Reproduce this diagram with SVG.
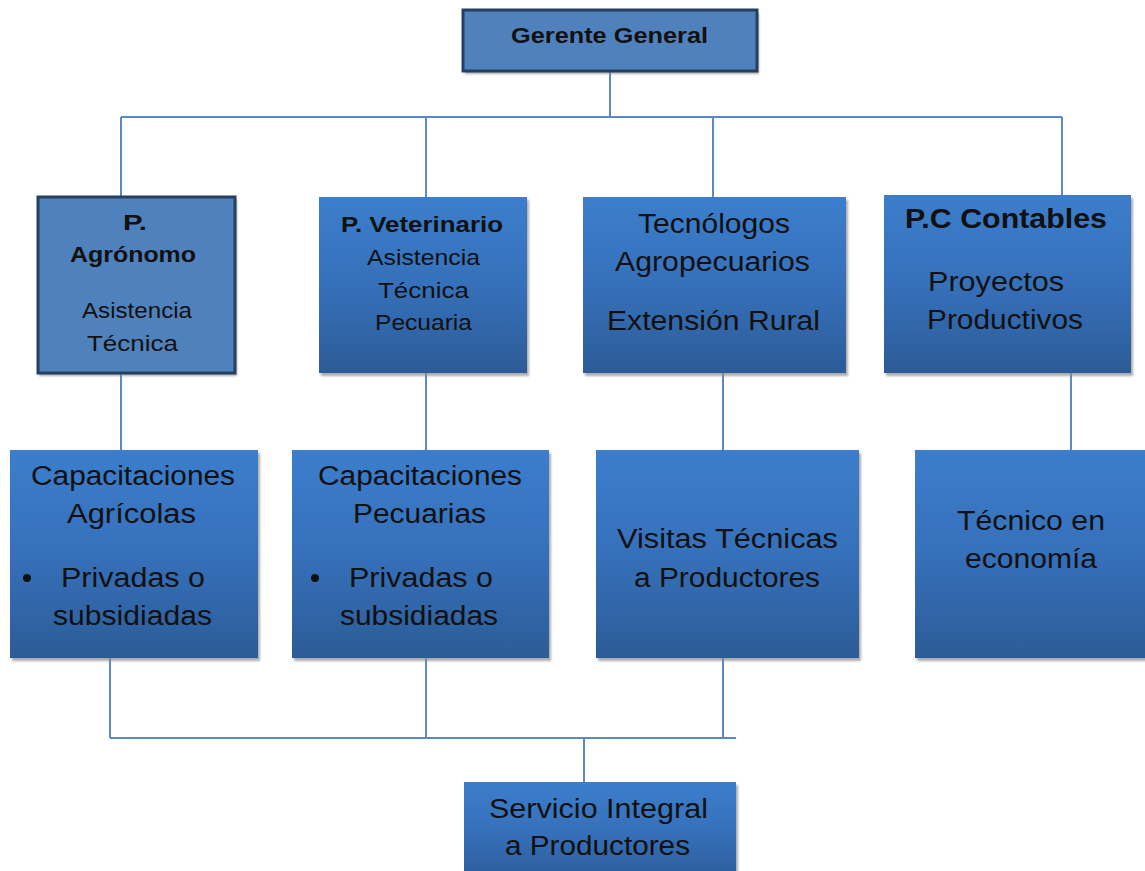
<svg xmlns="http://www.w3.org/2000/svg" width="1145" height="871" viewBox="0 0 1145 871">
<defs>
<linearGradient id="g" x1="0" y1="0" x2="0" y2="1">
<stop offset="0" stop-color="#3C7ECC"/>
<stop offset="0.5" stop-color="#3670BA"/>
<stop offset="1" stop-color="#2C5C97"/>
</linearGradient>
<filter id="sh" x="-5%" y="-5%" width="115%" height="115%">
<feGaussianBlur stdDeviation="1.2"/>
</filter>
</defs>
<style>
.box{fill:url(#g)}
.flat{fill:#4F81BD;stroke:#243F60;stroke-width:3}
.shadow{fill:#8a8a8a;opacity:0.7;filter:url(#sh)}
.conn{fill:none;stroke:#5B89C6;stroke-width:2}
text{font-family:"Liberation Sans",Arial,sans-serif;fill:#111;}
.b{font-weight:bold}
.r27{font-size:27px}
.r22{font-size:22px}
.b22{font-size:22px;font-weight:bold}
.b27{font-size:27px;font-weight:bold}
</style>
<rect width="1145" height="871" fill="#fff"/>
<g id="connectors">
<path class="conn" d="M610 71V117M121 117H1062M121 117V197M426 117V197M713 117V197M1062 117V195"/>
<path class="conn" d="M121 373V450M426 373V450M723 373V450M1071 373V450"/>
<path class="conn" d="M110 658V738M426 658V738M723 658V738M110 738H736M584 738V782"/>
</g>
<g id="gerente">
<rect class="shadow" x="465" y="13" width="294" height="61"/>
<rect class="flat" x="463" y="10" width="294" height="61"/>
<text class="b22" x="511" y="43" textLength="197" lengthAdjust="spacingAndGlyphs">Gerente General</text>
</g>
<g id="agronomo">
<rect class="shadow" x="39" y="199" width="198" height="177"/>
<rect class="flat" x="38" y="197" width="197" height="176"/>
<text class="b22" x="123" y="230" textLength="24" lengthAdjust="spacingAndGlyphs">P.</text>
<text class="b22" x="70" y="262" textLength="126" lengthAdjust="spacingAndGlyphs">Agrónomo</text>
<text class="r22" x="82" y="318" textLength="110" lengthAdjust="spacingAndGlyphs">Asistencia</text>
<text class="r22" x="87" y="351" textLength="91" lengthAdjust="spacingAndGlyphs">Técnica</text>
</g>
<g id="veterinario">
<rect class="shadow" x="321" y="200" width="208" height="176"/>
<rect class="box" x="319" y="197" width="208" height="176"/>
<text class="b22" x="341" y="232" textLength="162" lengthAdjust="spacingAndGlyphs">P. Veterinario</text>
<text class="r22" x="367" y="265" textLength="113" lengthAdjust="spacingAndGlyphs">Asistencia</text>
<text class="r22" x="378" y="298" textLength="91" lengthAdjust="spacingAndGlyphs">Técnica</text>
<text class="r22" x="375" y="330" textLength="97" lengthAdjust="spacingAndGlyphs">Pecuaria</text>
</g>
<g id="tecnologos">
<rect class="shadow" x="585" y="200" width="263" height="176"/>
<rect class="box" x="583" y="197" width="263" height="176"/>
<text class="r27" x="638" y="233" textLength="152" lengthAdjust="spacingAndGlyphs">Tecnólogos</text>
<text class="r27" x="615" y="271" textLength="195" lengthAdjust="spacingAndGlyphs">Agropecuarios</text>
<text class="r27" x="607" y="330" textLength="213" lengthAdjust="spacingAndGlyphs">Extensión Rural</text>
</g>
<g id="contables">
<rect class="shadow" x="886" y="198" width="247" height="178"/>
<rect class="box" x="884" y="195" width="247" height="178"/>
<text class="b27" x="905" y="228" textLength="202" lengthAdjust="spacingAndGlyphs">P.C Contables</text>
<text class="r27" x="928" y="291" textLength="136" lengthAdjust="spacingAndGlyphs">Proyectos</text>
<text class="r27" x="927" y="329" textLength="156" lengthAdjust="spacingAndGlyphs">Productivos</text>
</g>
<g id="cap-agricolas">
<rect class="shadow" x="12" y="453" width="248" height="208"/>
<rect class="box" x="10" y="450" width="248" height="208"/>
<text class="r27" x="31" y="485" textLength="204" lengthAdjust="spacingAndGlyphs">Capacitaciones</text>
<text class="r27" x="67" y="523" textLength="129" lengthAdjust="spacingAndGlyphs">Agrícolas</text>
<circle cx="27" cy="578" r="4" fill="#111"/>
<text class="r27" x="61" y="587" textLength="144" lengthAdjust="spacingAndGlyphs">Privadas o</text>
<text class="r27" x="53" y="625" textLength="159" lengthAdjust="spacingAndGlyphs">subsidiadas</text>
</g>
<g id="cap-pecuarias">
<rect class="shadow" x="294" y="453" width="257" height="208"/>
<rect class="box" x="292" y="450" width="257" height="208"/>
<text class="r27" x="318" y="485" textLength="204" lengthAdjust="spacingAndGlyphs">Capacitaciones</text>
<text class="r27" x="353" y="523" textLength="133" lengthAdjust="spacingAndGlyphs">Pecuarias</text>
<circle cx="315" cy="578" r="4" fill="#111"/>
<text class="r27" x="349" y="587" textLength="144" lengthAdjust="spacingAndGlyphs">Privadas o</text>
<text class="r27" x="340" y="625" textLength="158" lengthAdjust="spacingAndGlyphs">subsidiadas</text>
</g>
<g id="visitas">
<rect class="shadow" x="598" y="453" width="263" height="208"/>
<rect class="box" x="596" y="450" width="263" height="208"/>
<text class="r27" x="617" y="548" textLength="221" lengthAdjust="spacingAndGlyphs">Visitas Técnicas</text>
<text class="r27" x="634" y="587" textLength="186" lengthAdjust="spacingAndGlyphs">a Productores</text>
</g>
<g id="economia">
<rect class="shadow" x="917" y="453" width="230" height="208"/>
<rect class="box" x="915" y="450" width="230" height="208"/>
<text class="r27" x="957" y="530" textLength="148" lengthAdjust="spacingAndGlyphs">Técnico en</text>
<text class="r27" x="965" y="568" textLength="132" lengthAdjust="spacingAndGlyphs">economía</text>
</g>
<g id="servicio">
<rect class="shadow" x="466" y="785" width="272" height="100"/>
<rect class="box" x="464" y="782" width="272" height="100"/>
<text class="r27" x="489" y="818" textLength="219" lengthAdjust="spacingAndGlyphs">Servicio Integral</text>
<text class="r27" x="505" y="855" textLength="185" lengthAdjust="spacingAndGlyphs">a Productores</text>
</g>
</svg>
